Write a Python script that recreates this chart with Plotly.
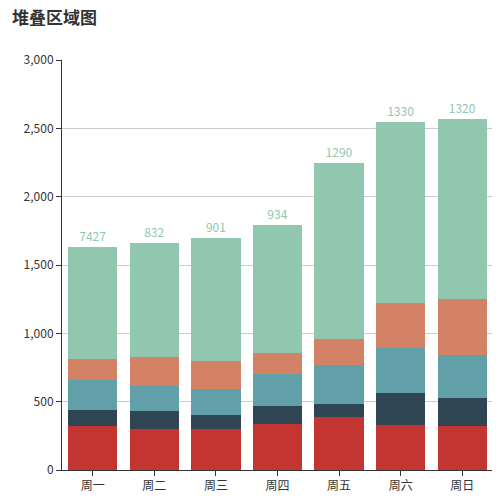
import plotly.graph_objects as go

days = ['周一','周二','周三','周四','周五','周六','周日']
direct = [320, 302, 301, 334, 390, 330, 320]
email = [120, 132, 101, 134, 90, 230, 210]
union = [220, 182, 191, 234, 290, 330, 310]
video = [150, 210, 201, 154, 190, 330, 410]
search = [820, 832, 901, 934, 1290, 1330, 1320]
top_labels = ['7427', '832', '901', '934', '1290', '1330', '1320']

series = [('直接访问', direct, '#c23531'), ('邮件营销', email, '#2f4554'),
          ('联盟广告', union, '#61a0a8'), ('视频广告', video, '#d48265'),
          ('搜索引擎', search, '#91c7ae')]

fig = go.Figure()
for i, (name, vals, col) in enumerate(series):
    last = i == len(series) - 1
    fig.add_bar(x=days, y=vals, name=name, marker=dict(color=col, line=dict(width=0)),
                text=top_labels if last else None, textposition='outside' if last else 'none',
                textfont=dict(color='#91c7ae', size=12), cliponaxis=False)

fig.update_layout(
    barmode='stack', bargap=0.2, width=492, height=492, showlegend=False,
    plot_bgcolor='white', paper_bgcolor='white',
    margin=dict(l=54, r=7, t=52, b=27),
    font=dict(family='Noto Sans CJK SC', color='#333', size=12),
    title=dict(text='<b>堆叠区域图</b>', xref='container', x=0.008, y=0.992, xanchor='left', yanchor='top',
               font=dict(size=17, color='#333')),
    xaxis=dict(showline=True, linecolor='#333', ticks='outside', tickcolor='#333', ticklen=5),
    yaxis=dict(range=[0, 3000], dtick=500, tickformat=',', gridcolor='#ccc', showline=True,
               linecolor='#333', ticks='outside', tickcolor='#333', ticklen=5, zeroline=False),
)
fig.write_html('out.html')
